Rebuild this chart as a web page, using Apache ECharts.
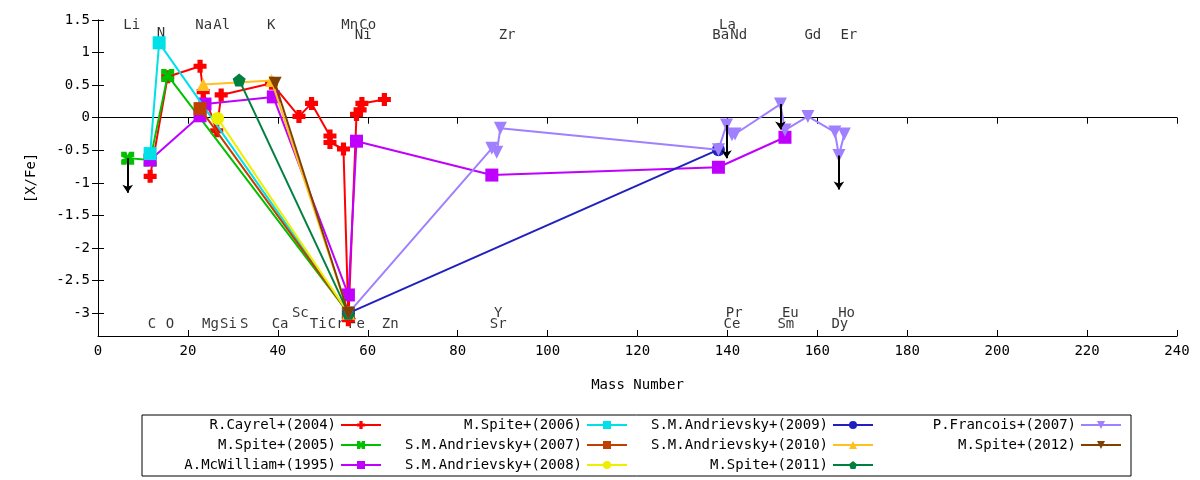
<!DOCTYPE html>
<html><head><meta charset="utf-8">
<script src="https://cdn.jsdelivr.net/npm/echarts@6/dist/echarts.min.js"></script>
<style>html,body{margin:0;background:#fff}#c{width:1200px;height:480px}</style>
</head><body><div id="c"></div>
<script>
const names = ['R.Cayrel+(2004)','M.Spite+(2005)','A.McWilliam+(1995)','M.Spite+(2006)','S.M.Andrievsky+(2007)','S.M.Andrievsky+(2008)','S.M.Andrievsky+(2009)','S.M.Andrievsky+(2010)','M.Spite+(2011)','P.Francois+(2007)','M.Spite+(2012)'];
const colors = ['#ff0000','#00c000','#c000ff','#00e0e8','#c04000','#eeee00','#2020c0','#ffc020','#008040','#a080ff','#804000'];
const cayrel = [[11.6,-0.9],[15.5,0.63],[22.7,0.79],[23.4,0.40],[26.4,-0.2],[27.4,0.35],[38.6,0.53],[44.7,0.02],[47.5,0.22],[51.6,-0.28],[51.6,-0.38],[54.6,-0.48],[55.7,-3.1],[57.5,0.05],[58.3,0.12],[58.7,0.22],[63.7,0.28]];
const spite05 = [[6.6,-0.62],[11.6,-0.65],[15.5,0.65],[55.7,-3.0]];
const mcwilliam = [[11.6,-0.65],[22.7,0.03],[23.8,0.21],[39,0.32],[55.7,-2.72],[57.5,-0.36],[87.6,-0.88],[138,-0.76],[152.8,-0.30]];
const spite06 = [[11.6,-0.55],[13.6,1.15],[55.7,-3.0]];
const andr07 = [[22.7,0.14],[55.7,-3.0]];
const andr08 = [[26.6,-0.01],[55.7,-3.0]];
const andr09 = [[55.7,-3.0],[138,-0.49]];
const andr10 = [[23.4,0.51],[38.6,0.57],[55.7,-3.0]];
const spite11 = [[31.4,0.58],[55.7,-3.0]];
const francois = [[55.7,-3.0],[87.6,-0.47],[88.7,-0.53],[89.5,-0.16],[138,-0.49],[139.8,-0.11],[141,-0.26],[141.7,-0.25],[151.8,0.21],[152.8,-0.19],[157.9,0.02],[163.9,-0.22],[164.8,-0.58],[166,-0.25]];
const spite12 = [[39.4,0.53],[55.7,-3.0]];
const seriesData = [cayrel,spite05,mcwilliam,spite06,andr07,andr08,andr09,andr10,spite11,francois,spite12];
const plus = 'path://M3,0H7V3H10V7H7V10H3V7H0V3H3Z';
const xs = 'path://M0,0H4L5,3L6,0H10V4L7,5L10,6V10H6L5,7L4,10H0V6L3,5L0,4Z';
const tri = 'triangle', itri = 'path://M0,0H10L5,10Z';
const symbols = [plus,xs,'rect','rect','rect','circle','circle',tri,'path://M5,0L10,4L8,10H2L0,4Z',itri,itri];
const arrows = [[[6.6,-0.62],[6.6,-1.15]],[[139.8,-0.11],[139.8,-0.62]],[[151.8,0.21],[151.8,-0.18]],[[164.8,-0.58],[164.8,-1.1]]];
const elemLabels = [['Li',7.5,1.42],['N',14,1.3],['Na',23.5,1.42],['Al',27.5,1.42],['K',38.5,1.42],['Mn',56,1.42],['Co',60,1.42],['Ni',59,1.27],['Zr',91,1.27],['La',140,1.42],['Ba',138.5,1.27],['Nd',142.5,1.27],['Gd',159,1.27],['Er',167,1.27],
['C',12,-3.17],['O',16,-3.17],['Mg',25,-3.17],['Si',29,-3.17],['S',32.5,-3.17],['Ca',40.5,-3.17],['Ti',49,-3.17],['Cr',53,-3.17],['Fe',57.5,-3.17],['Zn',65,-3.17],['Sc',45,-3.0],['Y',89,-3.0],['Sr',89,-3.17],['Pr',141.5,-3.0],['Ce',141,-3.17],['Eu',154,-3.0],['Sm',153,-3.17],['Ho',166.5,-3.0],['Dy',165,-3.17]];
const yTicks = [1.5,1,0.5,0,-0.5,-1,-1.5,-2,-2.5,-3];
const font = 'DejaVu Sans Mono';
const series = seriesData.map((d,i)=>({type:'line',name:names[i],data:d.slice().sort((a,b)=>a[0]-b[0]),color:colors[i],symbol:symbols[i],symbolSize:13,lineStyle:{width:2},itemStyle:{color:colors[i]},z:3+i}));
series.push({type:'lines',coordinateSystem:'cartesian2d',data:arrows.map(a=>({coords:a})),symbol:['none','arrow'],symbolSize:8,lineStyle:{color:'#000',width:2,opacity:1},z:20});
series.push({type:'scatter',data:elemLabels.map(e=>({value:[e[1],e[2]],name:e[0]})),symbolSize:0,silent:true,label:{show:true,formatter:p=>p.name,color:'#000',fontFamily:font,fontSize:14,position:'inside'},z:1});
const colRights = [818,572,326,78];
const legends = names.map((n,i)=>{const col=Math.floor(i/3), row=i%3;return {data:[n],right:colRights[col],top:418+row*20,align:'right',itemWidth:40,itemHeight:10,textStyle:{fontFamily:font,fontSize:14,color:'#000'},selectedMode:false,padding:0};});
const chart = echarts.init(document.getElementById('c'));
chart.setOption({
 animation:false,
 grid:{left:98,right:23,top:20,height:316},
 xAxis:[{type:'value',min:0,max:240,interval:20,axisLine:{onZero:false,lineStyle:{color:'#000'}},axisTick:{inside:true,length:6,lineStyle:{color:'#000'}},splitLine:{show:false},axisLabel:{color:'#000',fontFamily:font,fontSize:14},name:'Mass Number',nameLocation:'middle',nameGap:42,nameTextStyle:{fontFamily:font,fontSize:14,color:'#000'}},
  {type:'value',position:'top',min:0,max:240,interval:20,axisLine:{lineStyle:{color:'#000'}},axisTick:{inside:true,length:6,lineStyle:{color:'#000'}},axisLabel:{show:false},splitLine:{show:false}}],
 yAxis:[{type:'value',min:-3.35,max:1.5,axisLine:{show:true,onZero:false,lineStyle:{color:'#000'}},axisTick:{inside:true,length:6,customValues:yTicks,lineStyle:{color:'#000'}},axisLabel:{customValues:yTicks,color:'#000',fontFamily:font,fontSize:14},splitLine:{show:false},name:'[X/Fe]',nameLocation:'middle',nameGap:60,nameTextStyle:{fontFamily:font,fontSize:14,color:'#000'}},
  {type:'value',position:'right',min:-3.35,max:1.5,axisLine:{show:true,lineStyle:{color:'#000'}},axisTick:{inside:true,length:6,customValues:yTicks,lineStyle:{color:'#000'}},axisLabel:{show:false},splitLine:{show:false}}],
 legend:legends,
 graphic:[{type:'rect',shape:{x:142,y:415,width:989,height:61},style:{fill:'none',stroke:'#000',lineWidth:1}}],
 series:series
});
</script></body></html>
